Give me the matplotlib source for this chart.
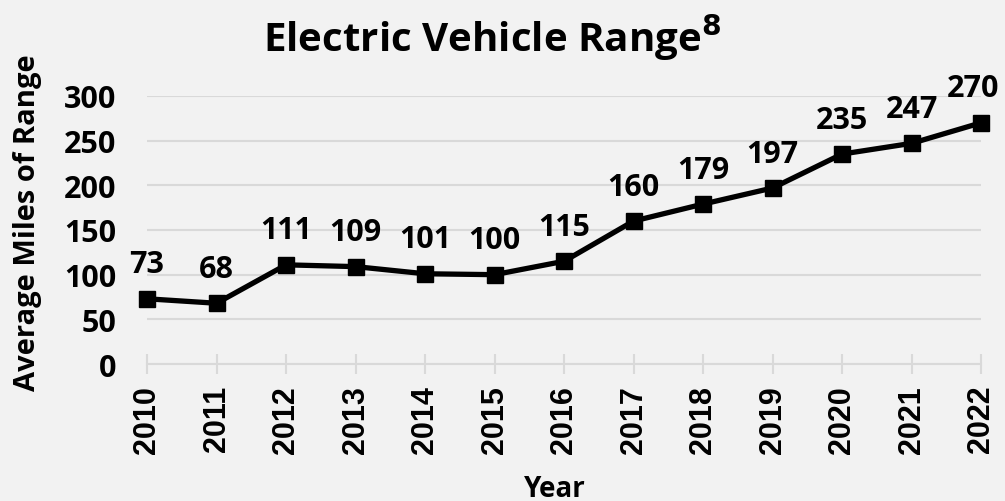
import matplotlib.pyplot as plt

years = ['2010', '2011', '2012', '2013', '2014', '2015', '2016',
         '2017', '2018', '2019', '2020', '2021', '2022']
miles = [73, 68, 111, 109, 101, 100, 115, 160, 179, 197, 235, 247, 270]
y_ticks = [0, 50, 100, 150, 200, 250, 300]

fig = plt.figure(figsize=(10.05, 5.02), dpi=100, facecolor='#f2f2f2')
ax = fig.add_axes([0.1463, 0.2729, 0.8299, 0.5339])
ax.set_facecolor('none')

x = list(range(len(years)))
ax.plot(x, miles, color='black', linewidth=3.8, marker='s', markersize=11.5,
        clip_on=False, zorder=3)

# value labels above the points (last one nudged left to stay inside)
for xi, v in zip(x, miles):
    dx = -6 if xi == len(years) - 1 else 0
    ax.annotate(str(v), (xi, v), xytext=(dx, 14), textcoords='offset points',
                ha='center', va='bottom', fontsize=22, fontweight='bold',
                family='Open Sans', annotation_clip=False)

ax.set_xlim(0, len(years) - 1)
ax.set_ylim(0, 300)
ax.set_yticks(y_ticks)
ax.set_yticklabels([str(t) for t in y_ticks], fontsize=22, fontweight='bold',
                   family='Open Sans')
ax.set_xticks(x)
ax.set_xticklabels(years, rotation=90, fontsize=22, fontweight='bold',
                   family='Liberation Sans')
ax.tick_params(axis='y', length=0, pad=22)
ax.tick_params(axis='x', direction='inout', length=14, width=1.5,
               color='#d9d9d9', pad=8)

ax.grid(axis='y', color='#d9d9d9', linewidth=1.5)
ax.set_axisbelow(True)
for s in ['top', 'right', 'left']:
    ax.spines[s].set_visible(False)
ax.spines['bottom'].set_color('#d9d9d9')
ax.spines['bottom'].set_linewidth(1.5)

fig.text(0.027, 0.556, 'Average Miles of Range', rotation=90, ha='center',
         va='center', fontsize=21, fontweight='bold', family='Open Sans')
fig.text(0.552, 0.025, 'Year', ha='center', va='center', fontsize=20,
         fontweight='bold', family='Open Sans')
fig.text(0.49, 0.925, 'Electric Vehicle Range$^{\\mathbf{8}}$', ha='center',
         va='center', fontsize=29, fontweight='bold', family='Open Sans')

fig.savefig('out.png', dpi=100, facecolor=fig.get_facecolor())
